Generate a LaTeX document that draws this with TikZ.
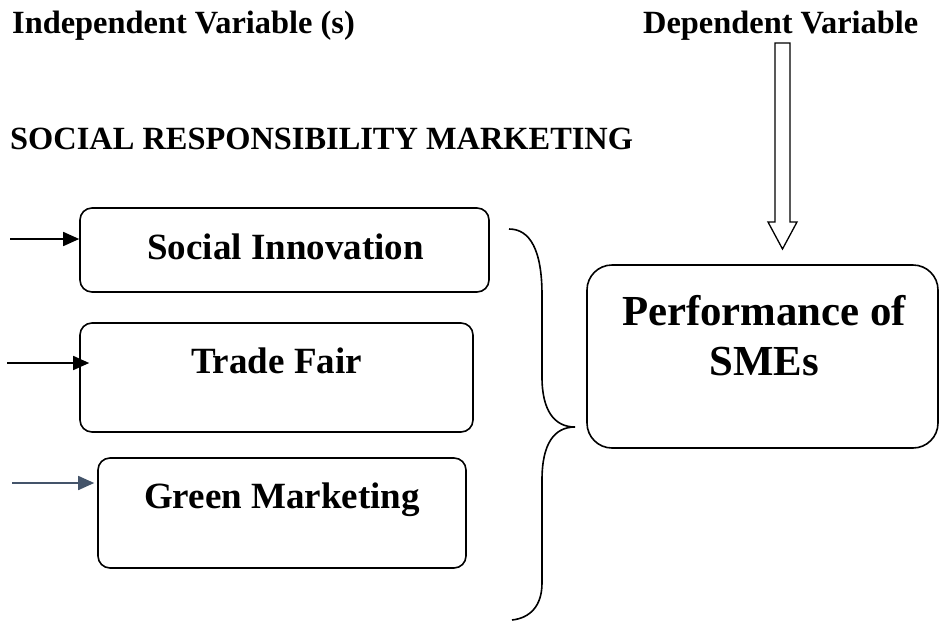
\documentclass[tikz,border=0pt]{standalone}
\usepackage{fontspec}
\setmainfont{Liberation Serif}
\usepackage{xcolor}
\usetikzlibrary{arrows.meta,calc}
\definecolor{FeedSlate}{HTML}{44546A}

\begin{document}
\begin{tikzpicture}[x=1pt,y=-1pt,
  varbox/.style={draw,line width=1.6pt,rounded corners=12pt,inner sep=0pt},
  headtext/.style={font=\fontsize{32.4}{38}\selectfont\bfseries,inner sep=0pt,anchor=base west},
  boxtext/.style={font=\fontsize{37}{44}\selectfont\bfseries,inner sep=0pt,anchor=base},
  feed/.style={line width=1.6pt,-{Triangle[length=16pt,width=14pt]}}]
  \useasboundingbox (0,0) rectangle (940,622);

  % headings
  \node[headtext] (indep) at (12,33) {Independent Variable (s)};
  \node[headtext] (dep) at (643,33) {Dependent Variable};
  \node[headtext] (srm) at (10,149) {SOCIAL RESPONSIBILITY MARKETING};

  % the three independent variables
  \node[varbox,minimum width=409pt,minimum height=84pt] (social) at (284.5,250) {};
  \node[boxtext] (socialT) at (285.5,259) {Social Innovation};
  \node[varbox,minimum width=393pt,minimum height=109pt] (trade) at (276.5,377.5) {};
  \node[boxtext] (tradeT) at (276.5,373) {Trade Fair};
  \node[varbox,minimum width=368pt,minimum height=110pt] (green) at (282,513) {};
  \node[boxtext] (greenT) at (282,508) {Green Marketing};

  % dependent variable
  \node[varbox,rounded corners=25pt,minimum width=351pt,minimum height=183pt] (perf) at (762.5,356.5) {};
  \node[boxtext,font=\fontsize{42.8}{50}\selectfont\bfseries] (perfA) at (764,325) {Performance of};
  \node[boxtext,font=\fontsize{42.8}{50}\selectfont\bfseries] (perfB) at (764,375) {SMEs};

  % input arrows
  \coordinate (inSocial) at (10,239);
  \draw[feed] (inSocial) -- (inSocial -| social.west);
  \coordinate (inTrade) at (7,363);
  \draw[feed,shorten >=-10pt] (inTrade) -- (inTrade -| trade.west);
  \coordinate (inGreen) at (12,483);
  \draw[feed,color=FeedSlate,shorten >=3pt] (inGreen) -- (inGreen -| green.west);

  % hollow block arrow down to the outcome box
  \coordinate (dvTop) at (782.5,43);
  \coordinate (dvTip) at (782.5,249);
  \draw[line width=1.3pt,line join=miter] (dvTop) ++(-7.5,0) -- ++(0,179) -- ++(-7,0) -- (dvTip)
    -- ++(14.5,-27) -- ++(-7,0) -- ++(0,-179) -- cycle;

  % brace grouping the three boxes
  \draw[line width=1.6pt] (509,229) .. controls (530,229) and (542,250) .. (542,295)
    -- (542,377) .. controls (542,410) and (554,427) .. (575,427)
    .. controls (554,427) and (542,444) .. (542,480)
    -- (542,583) .. controls (542,606) and (530,618) .. (512,620);
\end{tikzpicture}
\end{document}
